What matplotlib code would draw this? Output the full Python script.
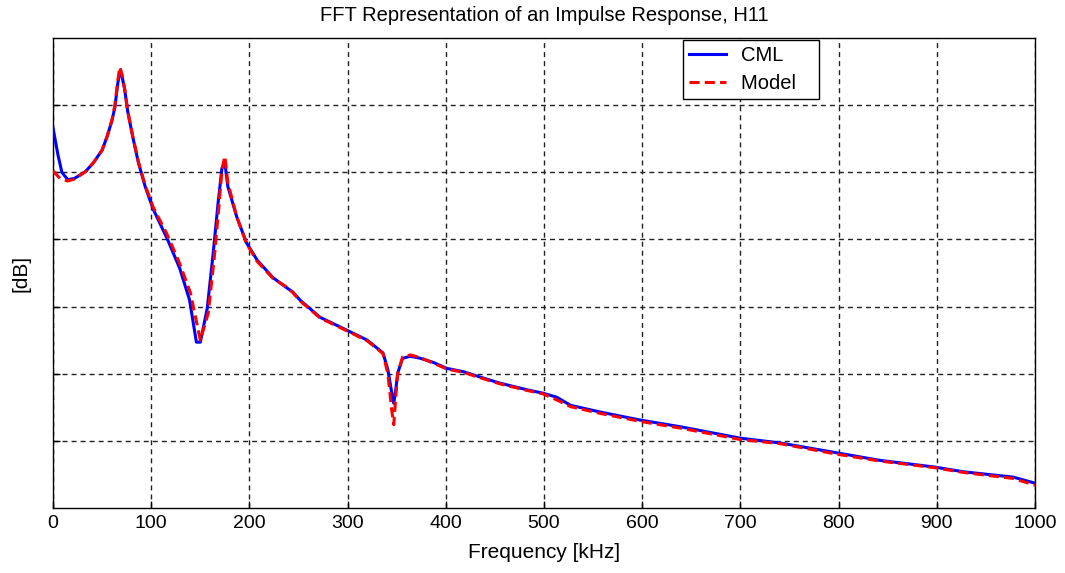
import matplotlib
matplotlib.use("Agg")
import matplotlib.pyplot as plt

freq_cml = [0, 5, 9, 15, 22, 33, 41, 50, 55, 60, 63, 66, 68, 70, 73, 76, 81, 87, 94, 102, 116,
            129, 139, 146, 150, 157, 163, 168, 172, 175, 178, 187, 197, 208, 224, 238, 244,
            252, 272, 299, 320, 336, 341, 345, 347, 349, 351, 356, 364, 374, 387, 401, 418,
            435, 455, 483, 499, 513, 527, 557, 598, 639, 700, 740, 799, 842, 898, 927, 978, 1000]
db_cml = [-13.4, -17.4, -20.0, -21.1, -20.9, -19.9, -18.6, -16.7, -14.7, -12.3, -10.3, -6.7,
          -5.2, -5.5, -7.7, -10.9, -14.6, -18.6, -22.2, -25.5, -29.8, -34.3, -39.0, -45.3,
          -45.3, -40.3, -32.2, -24.7, -19.4, -18.6, -22.1, -26.6, -30.5, -33.1, -35.7, -37.2,
          -37.8, -39.1, -41.6, -43.5, -45.0, -46.9, -49.4, -52.9, -54.4, -52.4, -49.9, -47.7,
          -47.4, -47.7, -48.3, -49.2, -49.7, -50.5, -51.4, -52.4, -52.9, -53.5, -54.7, -55.7,
          -56.9, -57.9, -59.6, -60.3, -61.8, -62.9, -63.9, -64.6, -65.4, -66.3]

freq_model = [0, 7, 15, 22, 33, 41, 50, 55, 60, 63, 66, 68, 70, 73, 76, 81, 87, 94, 102, 116,
              129, 140, 145, 150, 158, 164, 169, 172, 175, 178, 187, 197, 208, 224, 238, 244,
              252, 272, 299, 320, 336, 341, 345, 347, 349, 351, 356, 364, 374, 387, 401, 418,
              435, 455, 483, 499, 513, 527, 557, 598, 639, 700, 740, 799, 842, 898, 927, 978, 1000]
db_model = [-19.8, -20.9, -21.3, -21.0, -19.9, -18.6, -16.7, -14.7, -12.2, -10.0, -6.3, -4.3,
            -5.3, -7.6, -10.8, -14.5, -18.5, -22.0, -25.2, -29.2, -33.6, -38.0, -41.5, -45.0,
            -41.0, -33.0, -25.0, -19.6, -17.6, -21.5, -26.6, -30.6, -33.3, -35.8, -37.1, -37.9,
            -39.2, -41.7, -43.6, -45.1, -47.0, -50.0, -55.5, -57.6, -53.5, -50.0, -47.5, -47.2,
            -47.6, -48.4, -49.3, -49.8, -50.6, -51.5, -52.5, -53.0, -53.9, -54.9, -55.9, -57.1,
            -58.1, -59.8, -60.4, -62.0, -63.0, -64.0, -64.7, -65.6, -66.6]

x_ticks = [0, 100, 200, 300, 400, 500, 600, 700, 800, 900, 1000]
y_ticks = [-60, -50, -40, -30, -20, -10]

plt.rcParams['font.family'] = ['Liberation Sans', 'DejaVu Sans']
fig = plt.figure(figsize=(10.65, 5.73), dpi=100)
ax = fig.add_axes([0.0498, 0.1134, 0.922, 0.8203])

ax.plot(freq_cml, db_cml, color='#0000ff', lw=2.2, label='CML', zorder=3)
ax.plot(freq_model, db_model, color='#ff0000', lw=2.2, ls=(0, (3.3, 1.7)),
        label='Model   ', zorder=4)

ax.set_xlim(0, 1000)
ax.set_ylim(-70, 0)
ax.set_xticks(x_ticks)
ax.set_xticklabels([str(v) for v in x_ticks], fontsize=14)
ax.set_yticks(y_ticks)
ax.set_yticklabels([])
ax.tick_params(direction='in', length=5, width=1, colors='black', pad=5)
ax.grid(True, color='#222222', ls=(0, (3.6, 2.9)), lw=1)
for s in ax.spines.values():
    s.set_linewidth(1)
    s.set_color('black')

ax.set_title('FFT Representation of an Impulse Response, H11', fontsize=14.5, pad=12)
ax.set_xlabel('Frequency [kHz]', fontsize=15, labelpad=8)
ax.set_ylabel('[dB]', fontsize=15, labelpad=11)

leg = ax.legend(loc='upper left', bbox_to_anchor=(0.6415, 0.996), fontsize=14.5,
                frameon=True, fancybox=False, handlelength=1.85, handletextpad=0.75,
                borderpad=0.3, borderaxespad=0, labelspacing=0.45)
leg.get_frame().set_edgecolor('black')
leg.get_frame().set_linewidth(1)
leg.get_frame().set_alpha(1)

fig.savefig('out.png', dpi=100)
